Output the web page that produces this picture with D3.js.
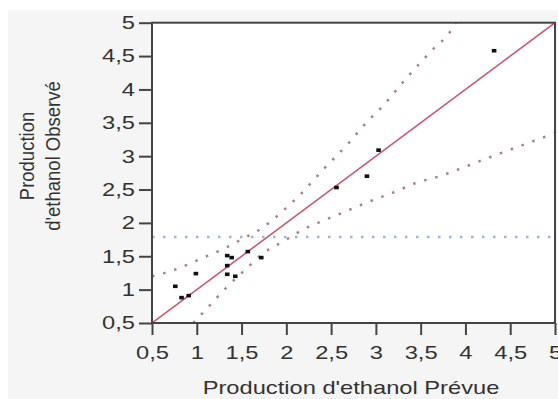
<!DOCTYPE html>
<html>
<head>
<meta charset="utf-8">
<script src="https://cdn.jsdelivr.net/npm/d3@7"></script>
<style>
  body { margin: 0; background: #fff; }
  svg { display: block; font-family: "Liberation Sans", Arial, sans-serif; }
</style>
</head>
<body>
<div id="chart"></div>
<script>
const predicted = [0.76, 0.83, 0.91, 0.99, 1.34, 1.39, 1.34, 1.34, 1.43, 1.57, 1.72, 2.56, 2.90, 3.03, 4.32];
const observed  = [1.05, 0.88, 0.91, 1.24, 1.51, 1.48, 1.36, 1.23, 1.20, 1.57, 1.48, 2.53, 2.70, 3.09, 4.58];

// dotted confidence curves
const upperBandX = [0.5, 0.78, 1.03, 1.27, 1.51, 1.75, 1.96, 2.15, 2.42, 2.70, 2.88, 3.07, 3.33, 3.60, 3.87, 3.89];
const upperBandY = [1.20, 1.31, 1.455, 1.594, 1.759, 1.943, 2.178, 2.418, 2.812, 3.202, 3.482, 3.741, 4.152, 4.551, 4.951, 5.0];
const lowerBandX = [0.96, 1.16, 1.34, 1.55, 1.74, 1.96, 2.20, 2.45, 2.69, 2.94, 3.19, 3.44, 3.72, 4.21, 4.71, 5.0];
const lowerBandY = [0.5, 0.785, 1.044, 1.309, 1.545, 1.718, 1.909, 2.054, 2.189, 2.328, 2.453, 2.594, 2.703, 2.953, 3.202, 3.347];

const fitLine = [0.5, 5];
const xTicks = [0.5, 1, 1.5, 2, 2.5, 3, 3.5, 4, 4.5, 5];
const yTicks = [0.5, 1, 1.5, 2, 2.5, 3, 3.5, 4, 4.5, 5];

const width = 558, height = 399;
const plot = { left: 152, right: 555, top: 22.7, bottom: 323 };
const fontSize = 18.5;
const stretch = 1.28; // text in the picture is wider than it is tall
const textColor = "#333";

const fr = d3.formatLocale({ decimal: ",", thousands: " ", grouping: [3], currency: ["", "€"] });
const fmt = fr.format("~g");

const x = d3.scaleLinear().domain([0.5, 5]).range([plot.left, plot.right]);
const y = d3.scaleLinear().domain([0.5, 5]).range([plot.bottom, plot.top]);

const svg = d3.select("#chart").append("svg")
    .attr("width", width)
    .attr("height", height);

svg.append("rect")
    .attr("x", 8).attr("y", 10)
    .attr("width", width - 8).attr("height", height - 10)
    .attr("fill", "#f5f5f5");

svg.append("rect")
    .attr("x", plot.left).attr("y", plot.top)
    .attr("width", plot.right - plot.left).attr("height", plot.bottom - plot.top)
    .attr("fill", "#fff");

svg.append("clipPath").attr("id", "plot-clip")
    .append("rect")
    .attr("x", plot.left).attr("y", plot.top)
    .attr("width", plot.right - plot.left).attr("height", plot.bottom - plot.top);

const g = svg.append("g").attr("clip-path", "url(#plot-clip)");

// mean of observed values
const meanY = d3.mean(observed);
g.append("line")
    .attr("x1", x(0.5)).attr("x2", x(5))
    .attr("y1", y(meanY)).attr("y2", y(meanY))
    .attr("stroke", "#9fb3d6")
    .attr("stroke-width", 2.5)
    .attr("stroke-dasharray", "2.5,8.5");

const curve = d3.line()
    .x(d => x(d[0]))
    .y(d => y(d[1]))
    .curve(d3.curveMonotoneX);

[[upperBandX, upperBandY], [lowerBandX, lowerBandY]].forEach(([bx, by]) => {
    g.append("path")
        .datum(bx.map((v, i) => [v, by[i]]))
        .attr("d", curve)
        .attr("fill", "none")
        .attr("stroke", "#a8818a")
        .attr("stroke-width", 2.5)
        .attr("stroke-dasharray", "2.5,9");
});

g.append("line")
    .attr("x1", x(fitLine[0])).attr("y1", y(fitLine[0]))
    .attr("x2", x(fitLine[1])).attr("y2", y(fitLine[1]))
    .attr("stroke", "#c85c72")
    .attr("stroke-width", 1.6);

g.selectAll("rect.pt")
    .data(predicted.map((p, i) => [p, observed[i]]))
    .enter()
    .append("rect")
    .attr("class", "pt")
    .attr("x", d => x(d[0]) - 2.3)
    .attr("y", d => y(d[1]) - 1.8)
    .attr("width", 4.6)
    .attr("height", 3.6)
    .attr("fill", "#111");

// axes
const xAxis = svg.append("g")
    .attr("transform", `translate(0,${plot.bottom})`)
    .call(d3.axisBottom(x).tickValues(xTicks).tickFormat(fmt).tickSize(12).tickSizeOuter(0).tickPadding(10.7));
const yAxis = svg.append("g")
    .attr("transform", `translate(${plot.left},0)`)
    .call(d3.axisLeft(y).tickValues(yTicks).tickFormat(fmt).tickSize(13).tickSizeOuter(0));

[xAxis, yAxis].forEach(a => {
    a.select(".domain").remove();
    a.selectAll(".tick line").attr("stroke", "#444").attr("stroke-width", 2);
    a.selectAll(".tick text")
        .attr("fill", textColor)
        .style("font-size", fontSize + "px")
        .style("font-family", "\"Liberation Sans\", Arial, sans-serif");
});
xAxis.selectAll(".tick text").attr("transform", `scale(${stretch},1)`);
yAxis.selectAll(".tick text")
    .attr("x", -17 / stretch)
    .attr("transform", `scale(${stretch},1)`);

svg.append("rect")
    .attr("x", plot.left).attr("y", plot.top)
    .attr("width", plot.right - plot.left).attr("height", plot.bottom - plot.top)
    .attr("fill", "none")
    .attr("stroke", "#444")
    .attr("stroke-width", 2);

// titles
svg.append("text")
    .attr("transform", `translate(351,394) scale(${stretch},1)`)
    .attr("text-anchor", "middle")
    .attr("fill", textColor)
    .style("font-size", fontSize + "px")
    .text("Production d'ethanol Prévue");

[["Production", 34], ["d'ethanol Observé", 60]].forEach(([label, bx]) => {
    svg.append("text")
        .attr("transform", `translate(${bx},156) rotate(-90) scale(1,1.12)`)
        .attr("text-anchor", "middle")
        .attr("fill", textColor)
        .style("font-size", fontSize + "px")
        .text(label);
});
</script>
</body>
</html>
